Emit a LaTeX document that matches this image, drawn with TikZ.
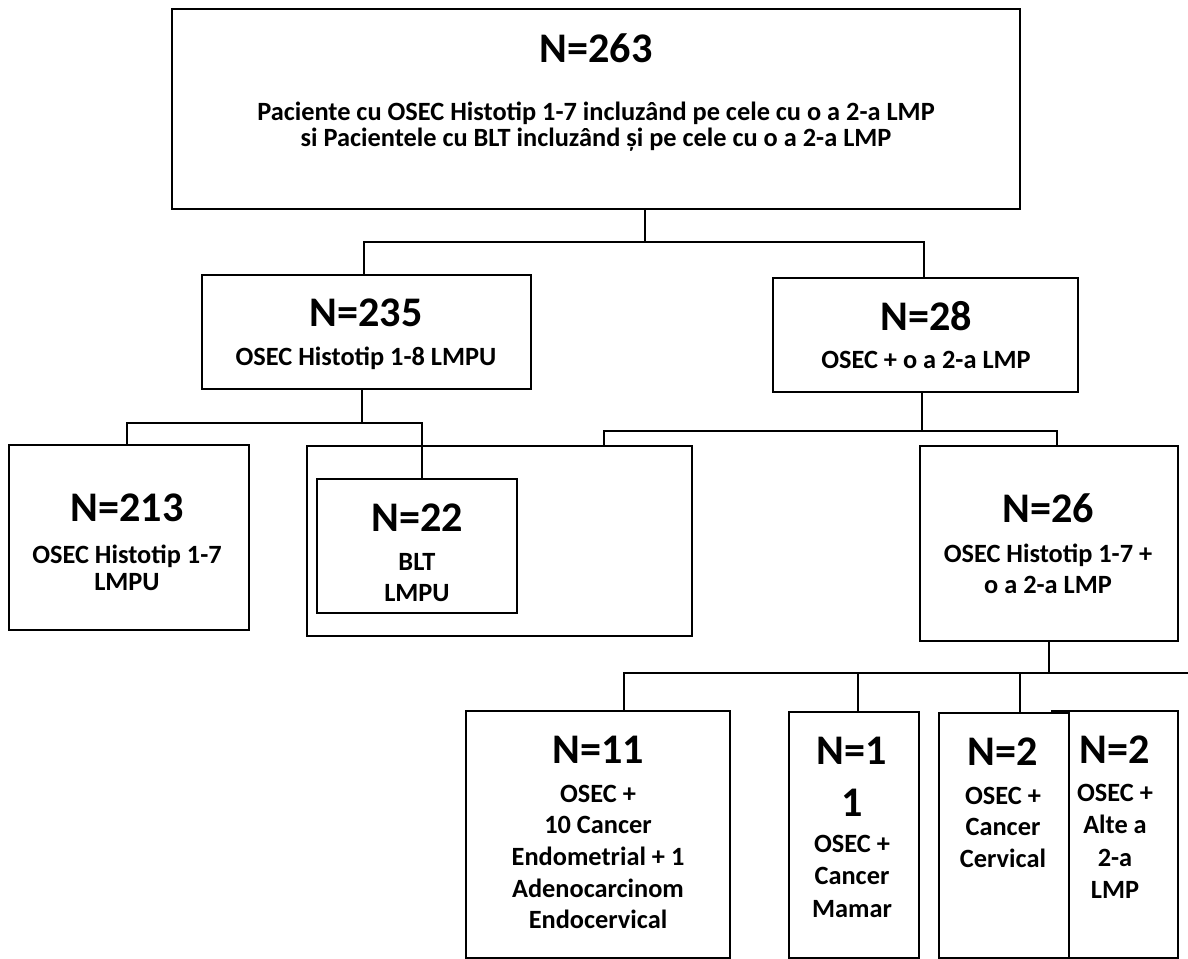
\documentclass[tikz,border=0pt]{standalone}
\usepackage{fontspec}
\setmainfont{Carlito}
\usetikzlibrary{fit}

\newcommand{\tightlines}{\lineskiplimit=-20pt\relax}

\tikzset{
  box/.style={draw, line width=1.2pt, fill=white, inner sep=0pt},
  link/.style={line width=0.7pt},
  num/.style={inner sep=0pt, align=center, font=\fontsize{24}{30}\selectfont\bfseries},
  txt/.style={inner sep=0pt, anchor=north, align=center, font=\fontsize{15}{18}\selectfont\bfseries},
}

\begin{document}
\begin{tikzpicture}[x=0.02cm, y=-0.02cm]

  \useasboundingbox (0,0) rectangle (1188,958);

  % boxes
  \node[box, fit={(172,9) (1020,209)}] (root) {};
  \node[box, fit={(202,275) (531,389)}] (n235) {};
  \node[box, fit={(773,278) (1078,392)}] (n28) {};
  \node[box, fit={(9,445) (249,630)}] (n213) {};
  \node[box, fit={(307,446) (692,636)}] (outer) {};
  \node[box, fit={(317,479) (517,613)}] (n22) {};
  \node[box, fit={(920,446) (1178,641)}] (n26) {};
  \node[box, fit={(466,711) (730,958)}] (n11) {};
  \node[box, fit={(789,712) (919,958)}] (n1) {};
  \node[box, fit={(1052,711) (1178,958)}] (n2b) {};
  \node[box, fit={(939,713) (1069,958)}] (n2a) {};

  % texts
  \node[num] (t263) at (596,48) {N=263};
  \node[txt, font=\fontsize{15}{14.6}\selectfont\bfseries\tightlines] (s263) at (596,101.5)
    {Paciente cu OSEC Histotip 1-7 incluzând pe cele cu o a 2-a LMP\\si Pacientele cu BLT incluzând și pe cele cu o a 2-a LMP};

  \node[num] (t235) at (366,313) {N=235};
  \node[txt] (s235) at (366,346.5) {OSEC Histotip 1-8 LMPU};

  \node[num] (t28) at (926,316) {N=28};
  \node[txt] (s28) at (926,350.5) {OSEC + o a 2-a LMP};

  \node[num] (t213) at (127,508) {N=213};
  \node[txt, font=\fontsize{15}{15.5}\selectfont\bfseries] (s213) at (127,544.5) {OSEC Histotip 1-7\\LMPU};

  \node[num] (t22) at (417,518) {N=22};
  \node[txt, font=\fontsize{15}{17.6}\selectfont\bfseries] (s22) at (417,553.5) {BLT\\LMPU};

  \node[num] (t26) at (1048,508) {N=26};
  \node[txt, font=\fontsize{15}{17.6}\selectfont\bfseries] (s26) at (1048,543.5) {OSEC Histotip 1-7 +\\o a 2-a LMP};

  \node[num] (t11) at (598,750) {N=11};
  \node[txt] (s11) at (598,784.5) {OSEC +\\10 Cancer\\Endometrial + 1\\Adenocarcinom\\Endocervical};

  \node[num, anchor=north] (t1) at (852,736.5) {N=1\\1};
  \node[txt, font=\fontsize{15}{18.5}\selectfont\bfseries] (s1) at (852,834.5) {OSEC +\\Cancer\\Mamar};

  \node[num] (t2a) at (1003,752) {N=2};
  \node[txt] (s2a) at (1003,786.5) {OSEC +\\Cancer\\Cervical};

  \node[num] (t2b) at (1115,750) {N=2};
  \node[txt, font=\fontsize{15}{18.5}\selectfont\bfseries] (s2b) at (1115,783.5) {OSEC +\\Alte a\\2-a\\LMP};

  % connectors
  \coordinate (j1) at (645,242);
  \coordinate (j1l) at (364,242);
  \coordinate (j1r) at (924,242);
  \draw[link] (root.south -| j1) -- (j1);
  \draw[link] (n235.north -| j1l) -- (j1l) -- (j1r) -- (n28.north -| j1r);

  \coordinate (j2) at (362,423);
  \coordinate (j2l) at (127,423);
  \coordinate (j2r) at (422,423);
  \draw[link] (n235.south -| j2) -- (j2);
  \draw[link] (n213.north -| j2l) -- (j2l) -- (j2r) -- (n22.north -| j2r);

  \coordinate (j3) at (922,431);
  \coordinate (j3l) at (604,431);
  \coordinate (j3r) at (1057,431);
  \draw[link] (n28.south -| j3) -- (j3);
  \draw[link] (outer.north -| j3l) -- (j3l) -- (j3r) -- (n26.north -| j3r);

  \coordinate (j4) at (1049,673);
  \coordinate (j4l) at (624,673);
  \coordinate (j4a) at (858,673);
  \coordinate (j4b) at (1020,673);
  \coordinate (j4e) at (1188,673);
  \draw[link] (n26.south -| j4) -- (j4);
  \draw[link] (n11.north -| j4l) -- (j4l) -- (j4e);
  \draw[link] (j4a) -- (n1.north -| j4a);
  \draw[link] (j4b) -- (n2a.north -| j4b);

\end{tikzpicture}
\end{document}
